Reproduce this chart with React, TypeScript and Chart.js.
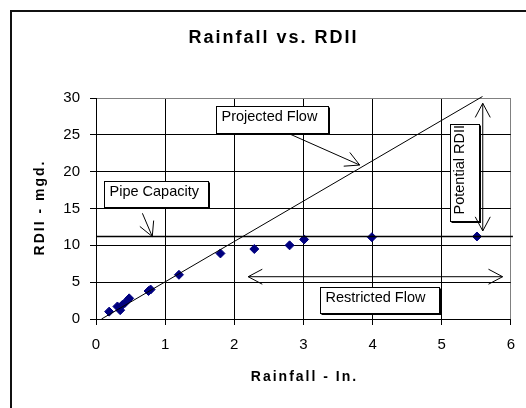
import React, { useEffect, useRef } from "react";
import { Chart, registerables } from "chart.js";

Chart.register(...registerables);

// ---- data ----
const rainfall = [0.19, 0.31, 0.35, 0.38, 0.42, 0.48, 0.76, 0.79, 1.2, 1.8, 2.29, 2.8, 3.01, 3.99, 5.51];
const rdii = [1.0, 1.7, 1.2, 1.9, 2.2, 2.8, 3.8, 4.0, 6.0, 8.9, 9.5, 10.0, 10.8, 11.1, 11.2];
const projectedFlowX = [0.08, 5.59];
const projectedFlowY = [0, 30.2];
const pipeCapacityX = [0, 6.03];
const pipeCapacityY = [11.2, 11.2];
const xTickValues = [0, 1, 2, 3, 4, 5, 6];
const yTickValues = [0, 5, 10, 15, 20, 25, 30];

const chartTitle = "Rainfall vs. RDII";
const xTitle = "Rainfall - In.";
const yTitle = "RDII - mgd.";

const FONT = 'Arial, "Liberation Sans", sans-serif';

// annotation placement (data units)
const notes = {
  projected: { text: "Projected Flow", box: [1.738, 28.91, 3.362, 25.21], arrow: [2.803, 25.11, 3.814, 20.9] },
  pipe: { text: "Pipe Capacity", box: [0.122, 18.77, 1.617, 15.16], arrow: [0.671, 14.35, 0.814, 11.2] },
  potential: { text: "Potential RDII", box: [5.115, 26.43, 5.545, 13.34], arrow: [5.594, 29.28, 5.594, 11.95] },
  restricted: { text: "Restricted Flow", box: [3.243, 4.385, 4.963, 0.774], arrow: [2.201, 5.74, 5.881, 5.74] },
};

function head(ctx: CanvasRenderingContext2D, tx: number, ty: number, fx: number, fy: number) {
  const a = Math.atan2(fy - ty, fx - tx);
  const len = 16;
  const sp = (28 * Math.PI) / 180;
  ctx.beginPath();
  ctx.moveTo(tx + len * Math.cos(a + sp), ty + len * Math.sin(a + sp));
  ctx.lineTo(tx, ty);
  ctx.lineTo(tx + len * Math.cos(a - sp), ty + len * Math.sin(a - sp));
  ctx.stroke();
}

const decor = {
  id: "decor",
  afterDraw(chart: any) {
    const { ctx } = chart;
    const xs = chart.scales.x;
    const ys = chart.scales.y;
    const X = (v: number) => xs.getPixelForValue(v);
    const Y = (v: number) => ys.getPixelForValue(v);
    ctx.save();

    // outer frame
    ctx.strokeStyle = "#111";
    ctx.lineWidth = 2;
    ctx.strokeRect(11, 11, 540, 420);

    // titles
    ctx.fillStyle = "#000";
    ctx.textBaseline = "middle";
    ctx.textAlign = "center";
    (ctx as any).letterSpacing = "2px";
    ctx.font = `bold 18px ${FONT}`;
    ctx.fillText(chartTitle, 273.5, 38.5);
    ctx.font = `bold 14px ${FONT}`;
    ctx.fillText(xTitle, 304.5, 377);
    ctx.save();
    ctx.translate(40, 208.5);
    ctx.rotate(-Math.PI / 2);
    ctx.fillText(yTitle, 1, 0);
    ctx.restore();
    (ctx as any).letterSpacing = "0px";

    const drawBox = (b: number[]) => {
      const l = Math.round(X(b[0])) + 0.5;
      const t = Math.round(Y(b[1])) + 0.5;
      const r = Math.round(X(b[2])) + 0.5;
      const bt = Math.round(Y(b[3])) + 0.5;
      ctx.fillStyle = "#000";
      ctx.fillRect(l + 1, t + 1, r - l + 0.5, bt - t + 0.5);
      ctx.fillStyle = "#fff";
      ctx.fillRect(l, t, r - l, bt - t);
      ctx.strokeStyle = "#000";
      ctx.lineWidth = 1;
      ctx.strokeRect(l, t, r - l, bt - t);
      return { l, t, r, bt };
    };

    ctx.font = `14.5px ${FONT}`;
    ctx.textAlign = "left";
    ctx.textBaseline = "middle";
    for (const key of ["projected", "pipe", "restricted"]) {
      const n = (notes as any)[key];
      const { l, t, bt } = drawBox(n.box);
      ctx.fillStyle = "#000";
      ctx.fillText(n.text, l + 5, (t + bt) / 2 - 3);
    }
    {
      const n = notes.potential;
      const { l, r, bt } = drawBox(n.box);
      ctx.save();
      ctx.translate((l + r) / 2 - 5, bt - 7);
      ctx.rotate(-Math.PI / 2);
      ctx.fillStyle = "#000";
      ctx.fillText(n.text, 0, 0);
      ctx.restore();
    }

    // arrows
    ctx.strokeStyle = "#000";
    ctx.lineWidth = 1;
    for (const key of ["projected", "pipe"]) {
      const a = (notes as any)[key].arrow;
      const fx = X(a[0]), fy = Y(a[1]), tx = X(a[2]), ty = Y(a[3]);
      ctx.beginPath();
      ctx.moveTo(fx, fy);
      ctx.lineTo(tx, ty);
      ctx.stroke();
      head(ctx, tx, ty, fx, fy);
    }
    for (const key of ["potential", "restricted"]) {
      const a = (notes as any)[key].arrow;
      const fx = X(a[0]), fy = Y(a[1]), tx = X(a[2]), ty = Y(a[3]);
      ctx.beginPath();
      ctx.moveTo(fx, fy);
      ctx.lineTo(tx, ty);
      ctx.stroke();
      head(ctx, tx, ty, fx, fy);
      head(ctx, fx, fy, tx, ty);
    }
    ctx.restore();
  },
};

export default function App() {
  const ref = useRef<HTMLCanvasElement | null>(null);
  useEffect(() => {
    if (!ref.current) return;
    const chart = new Chart(ref.current, {
      type: "scatter",
      data: {
        datasets: [
          {
            label: "Projected Flow",
            data: projectedFlowX.map((x, i) => ({ x, y: projectedFlowY[i] })),
            showLine: true,
            borderColor: "#000",
            borderWidth: 1,
            pointRadius: 0,
            clip: false as any,
          },
          {
            label: "Pipe Capacity",
            data: pipeCapacityX.map((x, i) => ({ x, y: pipeCapacityY[i] })),
            showLine: true,
            borderColor: "#000",
            borderWidth: 1.5,
            pointRadius: 0,
            clip: false as any,
          },
          {
            label: "RDII",
            data: rainfall.map((x, i) => ({ x, y: rdii[i] })),
            pointStyle: "rectRot",
            pointRadius: 4.5,
            backgroundColor: "#000080",
            borderColor: "#000080",
            borderWidth: 1,
          },
        ],
      },
      options: {
        animation: false,
        responsive: false,
        events: [],
        layout: { padding: { top: 98, right: 11, left: 0, bottom: 0 } },
        plugins: { legend: { display: false }, title: { display: false }, tooltip: { enabled: false } },
        scales: {
          x: {
            type: "linear",
            min: 0,
            max: 6,
            afterFit: (s: any) => { s.height = 89; },
            afterBuildTicks: (s: any) => { s.ticks = xTickValues.map((v) => ({ value: v })); },
            ticks: { color: "#000", font: { family: FONT, size: 15 }, padding: 11, maxRotation: 0 },
            grid: {
              color: (c: any) => (c.tick && c.tick.value === 6 ? "#808080" : "#000"),
              tickColor: "#000",
              tickLength: 6,
              lineWidth: 1,
            },
            border: { color: "#000", width: 1 },
          },
          y: {
            type: "linear",
            min: 0,
            max: 30,
            afterFit: (s: any) => { s.width = 96; },
            afterBuildTicks: (s: any) => { s.ticks = yTickValues.map((v) => ({ value: v })); },
            ticks: { color: "#000", font: { family: FONT, size: 15 }, padding: 10 },
            grid: {
              color: (c: any) => (c.tick && c.tick.value === 30 ? "#808080" : "#000"),
              tickColor: "#000",
              tickLength: 6,
              lineWidth: 1,
            },
            border: { color: "#000", width: 1 },
          },
        },
      },
      plugins: [decor],
    });
    return () => chart.destroy();
  }, []);
  return (
    <div style={{ position: "absolute", left: 0, top: 0, width: 526, height: 408, background: "#fff" }}>
      <canvas ref={ref} width={526} height={408} style={{ display: "block", width: 526, height: 408 }} />
    </div>
  );
}
